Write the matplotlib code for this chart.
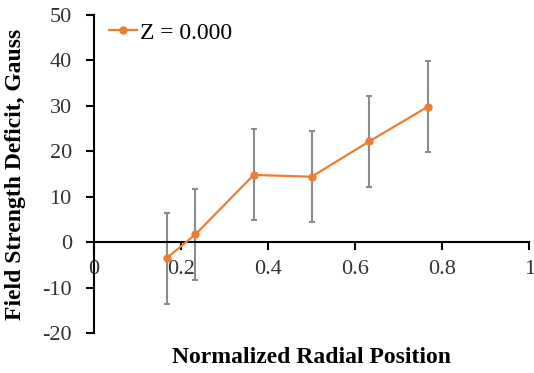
import matplotlib.pyplot as plt

# radial positions and measured deficit with uncertainty
r_pos = [0.167, 0.233, 0.367, 0.500, 0.633, 0.767]
deficit = [-3.5, 1.7, 14.8, 14.4, 22.2, 29.8]
err = [10, 10, 10, 10, 10, 10]

plt.rcParams['font.family'] = 'Liberation Serif'
plt.rcParams['axes.unicode_minus'] = False

fig = plt.figure(figsize=(5.34, 3.73), dpi=100)
ax = fig.add_axes([0.176, 0.107, 0.815, 0.853])

ax.errorbar(r_pos, deficit, yerr=err, fmt='none', ecolor='#8c8c8c',
            elinewidth=1.5, capsize=2.3, capthick=1.5, zorder=2)
ax.plot(r_pos, deficit, color='#ed7d31', marker='o', markersize=5,
        linewidth=1.6, label='Z = 0.000', zorder=3)

ax.set_xlim(0, 1)
ax.set_ylim(-20, 50)
ax.set_xticks([0, 0.2, 0.4, 0.6, 0.8, 1])
ax.set_xticklabels(['0', '0.2', '0.4', '0.6', '0.8', '1'])
ax.set_yticks(range(-20, 51, 10))

# x axis crosses at y = 0
ax.spines['bottom'].set_position(('data', 0))
ax.spines['top'].set_visible(False)
ax.spines['right'].set_visible(False)
for s in ['bottom', 'left']:
    ax.spines[s].set_linewidth(1.5)
ax.tick_params(axis='x', direction='out', length=6, width=1.5,
               labelsize=16, pad=7)
ax.tick_params(axis='y', direction='out', length=6, width=1.5,
               labelsize=16, pad=10)
for lbl in ax.get_xticklabels() + ax.get_yticklabels():
    lbl.set_color('#333333')

ax.set_xlabel('Normalized Radial Position', fontsize=17, fontweight='bold')
ax.xaxis.set_label_coords(0.5, -0.045, transform=ax.transAxes)
ax.set_ylabel('Field Strength Deficit, Gauss', fontsize=17, fontweight='bold')
ax.yaxis.set_label_coords(-0.156, 0.5)

ax.legend(loc='upper left', bbox_to_anchor=(0.018, 1.0), frameon=False,
          fontsize=17, handlelength=1.2, handletextpad=0.1,
          borderaxespad=0.0, borderpad=0.3)

fig.savefig('out.png', dpi=100)
